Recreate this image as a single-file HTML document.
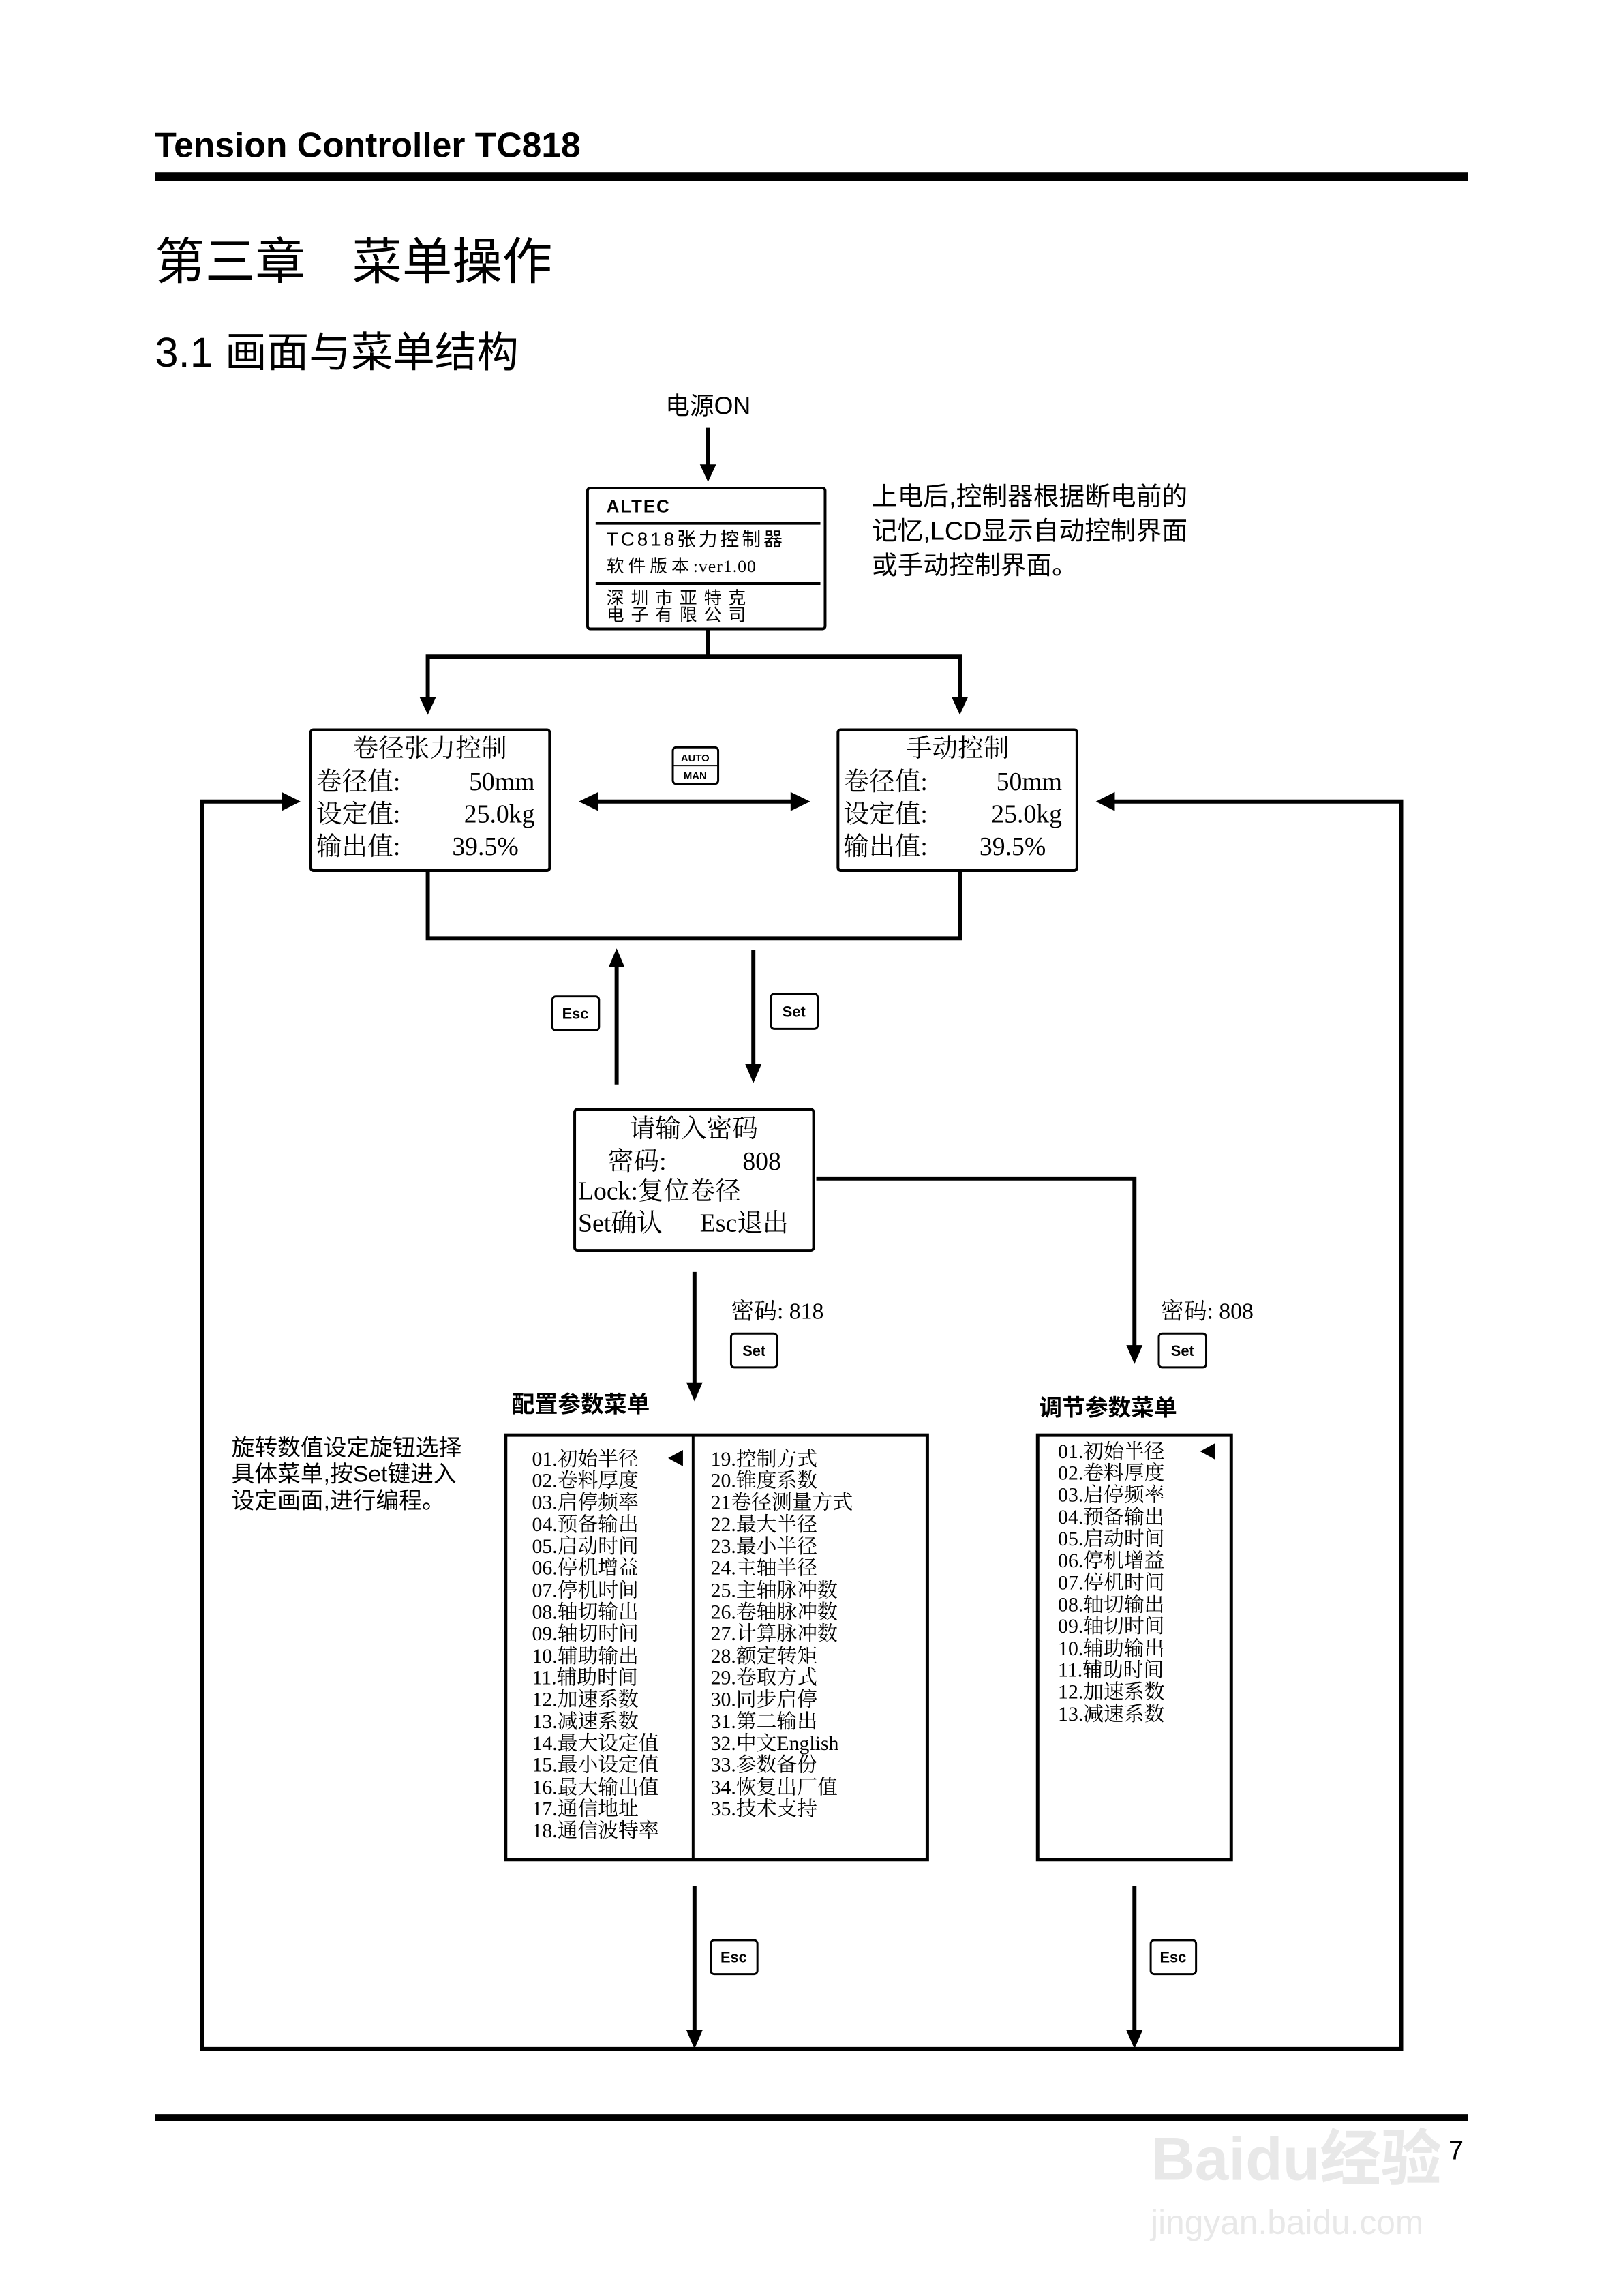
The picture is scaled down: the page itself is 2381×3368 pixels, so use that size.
<!DOCTYPE html>
<html><head><meta charset="utf-8"><style>
html,body{margin:0;padding:0;background:#fff}
svg{display:block}
.s{font-family:"Liberation Serif","Noto Serif CJK SC",serif}
.a{font-family:"Liberation Sans","Noto Sans CJK SC",sans-serif}
</style></head><body>
<svg width="2381" height="3368" viewBox="0 0 2381 3368" xmlns="http://www.w3.org/2000/svg">
<rect width="2381" height="3368" fill="#fff"/>
<g transform="scale(0.993)">
<text x="229" y="232" class="a" font-size="52" font-weight="bold">Tension Controller TC818</text>
<rect x="229" y="255" width="1940" height="12" fill="#000"/>
<text x="229" y="412" class="a" font-size="74">第三章</text>
<text x="520" y="412" class="a" font-size="74">菜单操作</text>
<text x="229" y="542" class="a" font-size="62">3.1 画面与菜单结构</text>
<text x="1046" y="612" class="a" font-size="36" text-anchor="middle">电源ON</text>

<g stroke="#000" stroke-width="6" fill="none">
<line x1="1046" y1="632" x2="1046" y2="690"/>
<polyline points="1046,929 1046,970"/>
<polyline points="632,1036 632,970 1418,970 1418,1036"/>
<line x1="880" y1="1184" x2="1172" y2="1184"/>
<polyline points="632,1286 632,1386 1418,1386 1418,1286"/>
<line x1="911" y1="1602" x2="911" y2="1425"/>
<line x1="1113" y1="1403" x2="1113" y2="1575"/>
<polyline points="1206,1741 1676,1741 1676,1990"/>
<line x1="1026" y1="1879" x2="1026" y2="2045"/>
<line x1="1026" y1="2786" x2="1026" y2="3005"/>
<line x1="1676" y1="2786" x2="1676" y2="3005"/>
<polyline points="420,1184 299,1184 299,3027 2070,3027 2070,1184 1640,1184"/>
</g>
<g fill="#000">
<polygon points="1034,686 1058,686 1046,712"/>
<polygon points="620,1030 644,1030 632,1056"/>
<polygon points="1406,1030 1430,1030 1418,1056"/>
<polygon points="855,1184 884,1170 884,1198"/>
<polygon points="1197,1184 1168,1170 1168,1198"/>
<polygon points="444,1184 416,1170 416,1198"/>
<polygon points="1619,1184 1647,1170 1647,1198"/>
<polygon points="911,1401 899,1429 923,1429"/>
<polygon points="1113,1600 1101,1572 1125,1572"/>
<polygon points="1676,2015 1664,1987 1688,1987"/>
<polygon points="1026,2070 1014,2042 1038,2042"/>
<polygon points="1026,3027 1014,2999 1038,2999"/>
<polygon points="1676,3027 1664,2999 1688,2999"/>
</g>

<rect x="868" y="721" width="351" height="208" rx="4" fill="none" stroke="#000" stroke-width="4"/>
<line x1="880" y1="773" x2="1212" y2="773" stroke="#000" stroke-width="4"/>
<line x1="880" y1="862" x2="1212" y2="862" stroke="#000" stroke-width="4"/>
<text x="896" y="757" class="a" font-size="26" font-weight="bold" letter-spacing="2">ALTEC</text>
<text x="896" y="806" class="a" font-size="28" letter-spacing="4">TC818张力控制器</text>
<text x="896" y="845" class="a" font-size="26" letter-spacing="6">软件版本<tspan class="s" letter-spacing="1">:ver1.00</tspan></text>
<text x="896" y="892" class="a" font-size="26" letter-spacing="10">深圳市亚特克</text>
<text x="896" y="917" class="a" font-size="26" letter-spacing="10">电子有限公司</text>
<text x="1288" y="746" class="a" font-size="38">上电后,控制器根据断电前的</text>
<text x="1288" y="797" class="a" font-size="38">记忆,LCD显示自动控制界面</text>
<text x="1288" y="848" class="a" font-size="38">或手动控制界面。</text>

<rect x="459" y="1078" width="353" height="208" rx="4" fill="none" stroke="#000" stroke-width="4"/>
<rect x="1238" y="1078" width="353" height="208" rx="4" fill="none" stroke="#000" stroke-width="4"/>
<g class="s" font-size="38">
<text x="635" y="1118" text-anchor="middle">卷径张力控制</text>
<text x="467" y="1167">卷径值:</text><text x="790" y="1167" text-anchor="end">50mm</text>
<text x="467" y="1215">设定值:</text><text x="790" y="1215" text-anchor="end">25.0kg</text>
<text x="467" y="1263">输出值:</text><text x="668" y="1263">39.5%</text>
<text x="1415" y="1118" text-anchor="middle">手动控制</text>
<text x="1246" y="1167">卷径值:</text><text x="1569" y="1167" text-anchor="end">50mm</text>
<text x="1246" y="1215">设定值:</text><text x="1569" y="1215" text-anchor="end">25.0kg</text>
<text x="1246" y="1263">输出值:</text><text x="1447" y="1263">39.5%</text>
</g>
<rect x="994" y="1104" width="67" height="54" rx="5" fill="none" stroke="#000" stroke-width="3"/>
<line x1="994" y1="1131" x2="1061" y2="1131" stroke="#000" stroke-width="2"/>
<text x="1027" y="1125" class="a" font-size="15" font-weight="bold" text-anchor="middle">AUTO</text>
<text x="1027" y="1151" class="a" font-size="15" font-weight="bold" text-anchor="middle">MAN</text>

<g fill="none" stroke="#000" stroke-width="3">
<rect x="816" y="1472" width="69" height="50" rx="5"/>
<rect x="1139" y="1468" width="69" height="52" rx="5"/>
<rect x="1080" y="1970" width="68" height="50" rx="5"/>
<rect x="1712" y="1970" width="70" height="50" rx="5"/>
<rect x="1050" y="2866" width="69" height="50" rx="5"/>
<rect x="1700" y="2866" width="67" height="50" rx="5"/>
</g>
<g class="a" font-size="22" font-weight="bold" text-anchor="middle">
<text x="850" y="1505">Esc</text>
<text x="1173" y="1502">Set</text>
<text x="1114" y="2003">Set</text>
<text x="1747" y="2003">Set</text>
<text x="1084" y="2899">Esc</text>
<text x="1733" y="2899">Esc</text>
</g>

<rect x="849" y="1639" width="353" height="208" rx="4" fill="none" stroke="#000" stroke-width="4"/>
<g class="s" font-size="38">
<text x="1025" y="1680" text-anchor="middle">请输入密码</text>
<text x="898" y="1728">密码:</text><text x="1097" y="1728">808</text>
<text x="854" y="1772">Lock:复位卷径</text>
<text x="854" y="1819">Set确认</text><text x="1034" y="1819">Esc退出</text>
</g>
<text x="1080" y="1948" class="s" font-size="34">密码: 818</text>
<text x="1715" y="1948" class="s" font-size="34">密码: 808</text>
<text x="756" y="2086" class="a" font-size="34" font-weight="bold">配置参数菜单</text>
<text x="1535" y="2091" class="a" font-size="34" font-weight="bold">调节参数菜单</text>
<g class="a" font-size="34">
<text x="342" y="2150">旋转数值设定旋钮选择</text>
<text x="342" y="2189">具体菜单,按Set键进入</text>
<text x="342" y="2228">设定画面,进行编程。</text>
</g>

<rect x="747" y="2120" width="623" height="627" fill="none" stroke="#000" stroke-width="5"/>
<line x1="1024" y1="2120" x2="1024" y2="2747" stroke="#000" stroke-width="4"/>
<polygon points="987,2154 1009,2142 1009,2166" fill="#000"/>
<g class="s" font-size="30">
<text x="786" y="2165">01.初始半径</text>
<text x="786" y="2197">02.卷料厚度</text>
<text x="786" y="2229">03.启停频率</text>
<text x="786" y="2262">04.预备输出</text>
<text x="786" y="2294">05.启动时间</text>
<text x="786" y="2326">06.停机增益</text>
<text x="786" y="2359">07.停机时间</text>
<text x="786" y="2391">08.轴切输出</text>
<text x="786" y="2423">09.轴切时间</text>
<text x="786" y="2456">10.辅助输出</text>
<text x="786" y="2488">11.辅助时间</text>
<text x="786" y="2520">12.加速系数</text>
<text x="786" y="2553">13.减速系数</text>
<text x="786" y="2585">14.最大设定值</text>
<text x="786" y="2617">15.最小设定值</text>
<text x="786" y="2650">16.最大输出值</text>
<text x="786" y="2682">17.通信地址</text>
<text x="786" y="2714">18.通信波特率</text>
<text x="1050" y="2165">19.控制方式</text>
<text x="1050" y="2197">20.锥度系数</text>
<text x="1050" y="2229">21卷径测量方式</text>
<text x="1050" y="2262">22.最大半径</text>
<text x="1050" y="2294">23.最小半径</text>
<text x="1050" y="2326">24.主轴半径</text>
<text x="1050" y="2359">25.主轴脉冲数</text>
<text x="1050" y="2391">26.卷轴脉冲数</text>
<text x="1050" y="2423">27.计算脉冲数</text>
<text x="1050" y="2456">28.额定转矩</text>
<text x="1050" y="2488">29.卷取方式</text>
<text x="1050" y="2520">30.同步启停</text>
<text x="1050" y="2553">31.第二输出</text>
<text x="1050" y="2585">32.中文English</text>
<text x="1050" y="2617">33.参数备份</text>
<text x="1050" y="2650">34.恢复出厂值</text>
<text x="1050" y="2682">35.技术支持</text>
</g>

<rect x="1533" y="2120" width="286" height="627" fill="none" stroke="#000" stroke-width="5"/>
<polygon points="1773,2144 1795,2132 1795,2156" fill="#000"/>
<g class="s" font-size="30">
<text x="1563" y="2154">01.初始半径</text>
<text x="1563" y="2186">02.卷料厚度</text>
<text x="1563" y="2218">03.启停频率</text>
<text x="1563" y="2251">04.预备输出</text>
<text x="1563" y="2283">05.启动时间</text>
<text x="1563" y="2315">06.停机增益</text>
<text x="1563" y="2348">07.停机时间</text>
<text x="1563" y="2380">08.轴切输出</text>
<text x="1563" y="2412">09.轴切时间</text>
<text x="1563" y="2445">10.辅助输出</text>
<text x="1563" y="2477">11.辅助时间</text>
<text x="1563" y="2509">12.加速系数</text>
<text x="1563" y="2542">13.减速系数</text>
</g>

<rect x="229" y="3123" width="1940" height="10" fill="#000"/>
<text x="1700" y="3220" class="a" font-size="90" font-weight="bold" fill="#e8e8e8">Baidu经验</text>
<text x="1700" y="3300" class="a" font-size="50" fill="#e8e8e8">jingyan.baidu.com</text>
<text x="2140" y="3190" class="a" font-size="40">7</text>
</g>
</svg>
</body></html>
